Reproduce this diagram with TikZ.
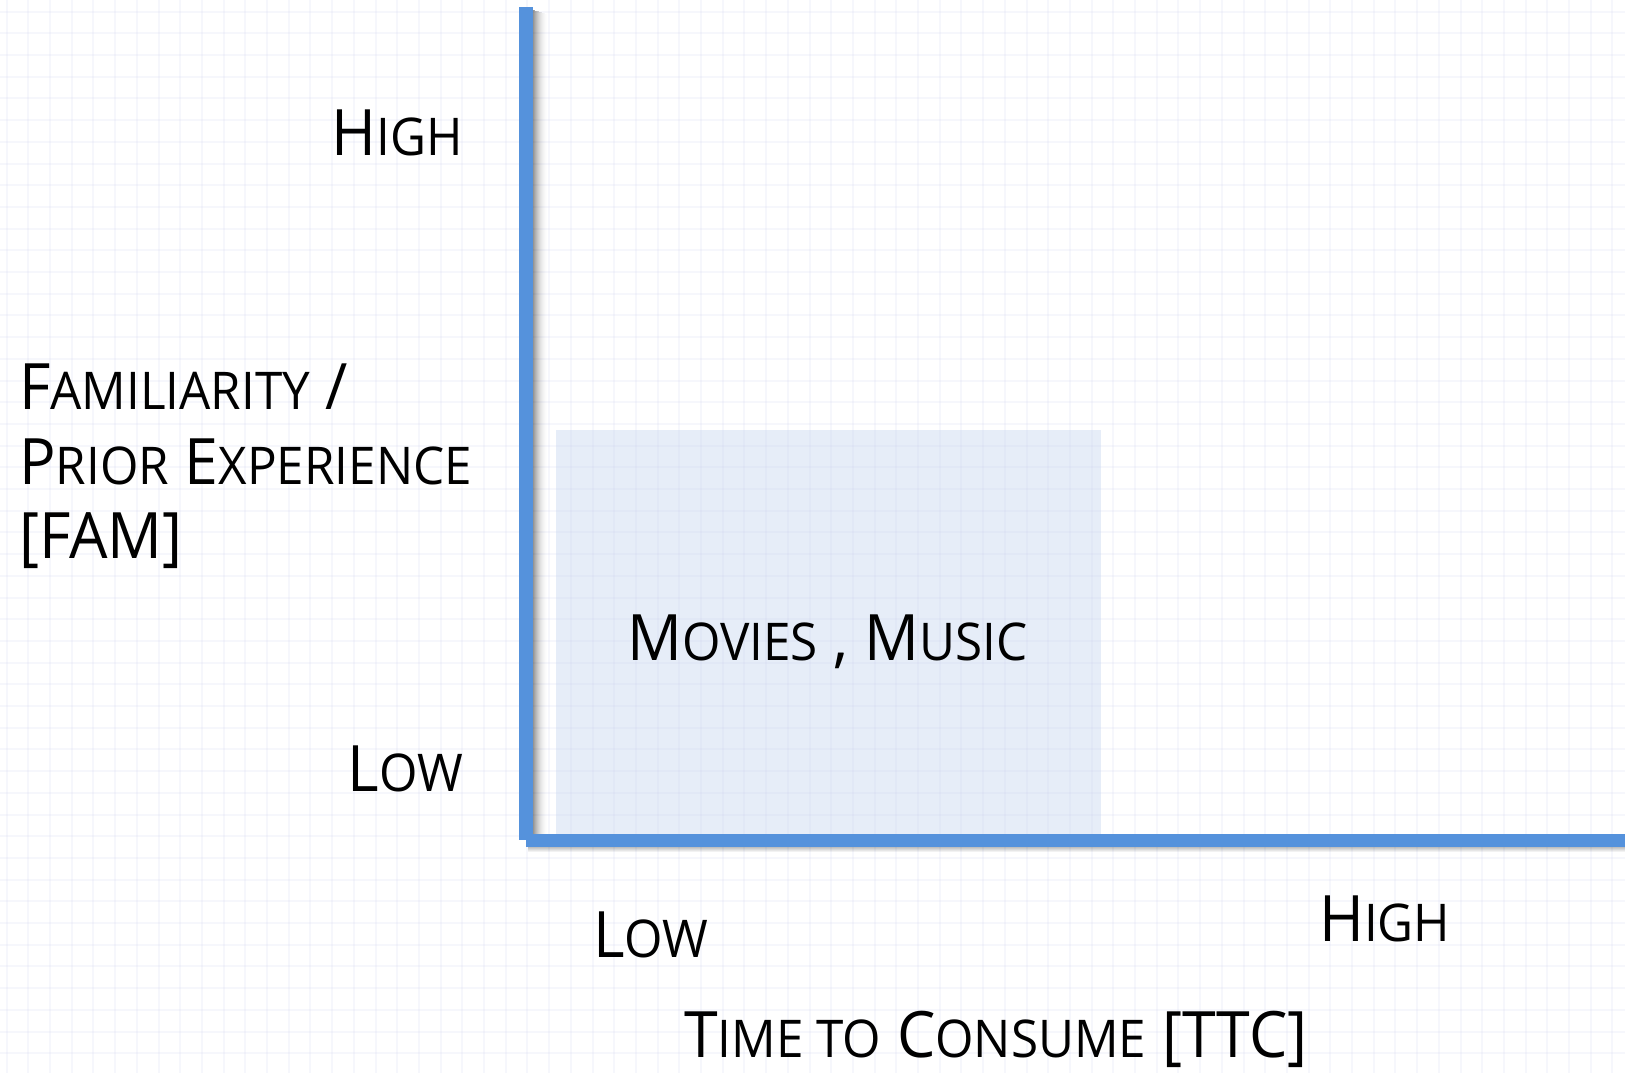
\documentclass[tikz,border=0pt]{standalone}
\usepackage{fontspec}
\setmainfont{Open Sans}[FakeStretch=0.95]
\definecolor{axisblue}{RGB}{85,146,220}
\definecolor{zonefill}{RGB}{230,237,248}
\definecolor{gridline}{RGB}{200,205,235}
% reduced capitals for the small-caps look of the labels
\newcommand\smc[1]{{\fontsize{52}{75}\selectfont #1}}
\tikzset{
  lbl/.style={font=\fontsize{64}{75}\selectfont, inner sep=0pt, text=black},
  gridln/.style={draw=gridline, opacity=0.15, line width=2pt},
  axisln/.style={fill=axisblue},
}
\begin{document}
\begin{tikzpicture}[x=1pt,y=-1pt]
  \useasboundingbox (0,0) rectangle (1625,1073);
  \fill[white] (0,0) rectangle (1625,1073);

  % highlighted low/low zone
  \fill[zonefill] (556,430) rectangle (1101,834);

  % background grid
  \foreach \k in {0,...,74} \draw[gridln] ({6.6+21.7*\k},0) -- ({6.6+21.7*\k},1073);
  \foreach \k in {0,...,49} \draw[gridln] (0,{11.6+21.7*\k}) -- (1625,{11.6+21.7*\k});

  % soft shadows of the axes
  \foreach \i in {0,...,14}
    \fill[black, opacity={0.42*(1-\i/15)*(1-\i/15)}] ({533+\i},{10+\i*0.3}) rectangle ({534+\i},834);
  \foreach \i in {0,...,4}
    \fill[black, opacity={0.25*(1-\i/5)}] (528,{847+\i}) rectangle (1625,{848+\i});

  % axes
  \fill[axisln] (519,7) rectangle (533,840);
  \fill[axisln] (526,834) rectangle (1625,847);

  % vertical axis labels
  \node[lbl, anchor=base east] (yhigh) at (463,155) {H\smc{IGH}};
  \node[lbl, anchor=base east] (ylow) at (463,791) {L\smc{OW}};
  \node[lbl, anchor=base west] (fam1) at (19,409) {F\smc{AMILIARITY} /};
  \node[lbl, anchor=base west] (fam2) at (19,484) {P\smc{RIOR} E\smc{XPERIENCE}};
  \node[lbl, anchor=base west] (fam3) at (19,558) {[FAM]};

  % zone label
  \node[lbl, anchor=base west] (zone) at (627,660) {M\smc{OVIES} , M\smc{USIC}};

  % horizontal axis labels
  \node[lbl, anchor=base west] (xlow) at (593,957) {L\smc{OW}};
  \node[lbl, anchor=base west] (xhigh) at (1319,941) {H\smc{IGH}};
  \node[lbl, anchor=base west] (ttc) at (684,1057) {T\smc{IME TO} C\smc{ONSUME} [TTC]};
\end{tikzpicture}
\end{document}
